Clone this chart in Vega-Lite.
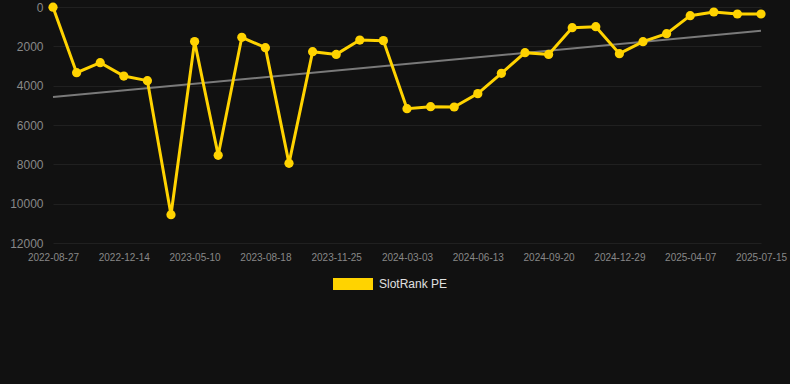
{
  "$schema": "https://vega.github.io/schema/vega-lite/v6.json",
  "width": 708,
  "height": 236,
  "autosize": {"type": "none"},
  "padding": {"left": 53, "top": 7, "right": 29, "bottom": 141},
  "background": "#111111",
  "config": {
    "view": {"stroke": null},
    "font": "Liberation Sans",
    "axis": {"gridColor": "#202020", "gridWidth": 1, "domain": false, "ticks": false, "labelColor": "#888888", "labelFont": "Liberation Sans"}
  },
  "datasets": {
    "main": [
      {"date": "2022-08-27", "rank": 10, "series": "SlotRank PE"},
      {"date": "2022-09-30", "rank": 3340, "series": "SlotRank PE"},
      {"date": "2022-11-10", "rank": 2830, "series": "SlotRank PE"},
      {"date": "2022-12-14", "rank": 3510, "series": "SlotRank PE"},
      {"date": "2023-01-25", "rank": 3745, "series": "SlotRank PE"},
      {"date": "2023-03-20", "rank": 10560, "series": "SlotRank PE"},
      {"date": "2023-05-10", "rank": 1760, "series": "SlotRank PE"},
      {"date": "2023-06-12", "rank": 7540, "series": "SlotRank PE"},
      {"date": "2023-07-15", "rank": 1540, "series": "SlotRank PE"},
      {"date": "2023-08-18", "rank": 2068, "series": "SlotRank PE"},
      {"date": "2023-09-20", "rank": 7950, "series": "SlotRank PE"},
      {"date": "2023-10-22", "rank": 2270, "series": "SlotRank PE"},
      {"date": "2023-11-25", "rank": 2410, "series": "SlotRank PE"},
      {"date": "2023-12-28", "rank": 1680, "series": "SlotRank PE"},
      {"date": "2024-01-30", "rank": 1710, "series": "SlotRank PE"},
      {"date": "2024-03-03", "rank": 5170, "series": "SlotRank PE"},
      {"date": "2024-04-05", "rank": 5070, "series": "SlotRank PE"},
      {"date": "2024-05-10", "rank": 5085, "series": "SlotRank PE"},
      {"date": "2024-06-13", "rank": 4405, "series": "SlotRank PE"},
      {"date": "2024-07-15", "rank": 3373, "series": "SlotRank PE"},
      {"date": "2024-08-17", "rank": 2322, "series": "SlotRank PE"},
      {"date": "2024-09-20", "rank": 2410, "series": "SlotRank PE"},
      {"date": "2024-10-22", "rank": 1050, "series": "SlotRank PE"},
      {"date": "2024-11-25", "rank": 1000, "series": "SlotRank PE"},
      {"date": "2024-12-29", "rank": 2373, "series": "SlotRank PE"},
      {"date": "2025-01-31", "rank": 1763, "series": "SlotRank PE"},
      {"date": "2025-03-05", "rank": 1356, "series": "SlotRank PE"},
      {"date": "2025-04-07", "rank": 440, "series": "SlotRank PE"},
      {"date": "2025-05-10", "rank": 254, "series": "SlotRank PE"},
      {"date": "2025-06-12", "rank": 356, "series": "SlotRank PE"},
      {"date": "2025-07-15", "rank": 356, "series": "SlotRank PE"}
    ],
    "trend": [
      {"date": "2022-08-27", "rank": 4580},
      {"date": "2025-07-15", "rank": 1210}
    ]
  },
  "encoding": {
    "x": {
      "field": "date", "type": "ordinal", "sort": "ascending",
      "scale": {"type": "point", "padding": 0},
      "axis": {
        "title": null, "labelAngle": 0, "labelFontSize": 10, "labelPadding": 9,
        "values": ["2022-08-27", "2022-12-14", "2023-05-10", "2023-08-18", "2023-11-25", "2024-03-03", "2024-06-13", "2024-09-20", "2024-12-29", "2025-04-07", "2025-07-15"]
      }
    },
    "y": {
      "field": "rank", "type": "quantitative",
      "scale": {"domain": [0, 12000], "reverse": true, "nice": false, "zero": false},
      "axis": {"title": null, "values": [0, 2000, 4000, 6000, 8000, 10000, 12000], "labelFontSize": 12, "labelPadding": 10, "format": "d"}
    }
  },
  "layer": [
    {
      "data": {"name": "trend"},
      "mark": {"type": "line", "color": "#7a7a7a", "strokeWidth": 2},
      "encoding": {}
    },
    {
      "data": {"name": "main"},
      "mark": {"type": "line", "strokeWidth": 3, "color": "#FFD300"},
      "encoding": {}
    },
    {
      "data": {"name": "main"},
      "mark": {"type": "circle", "size": 85, "opacity": 1},
      "encoding": {
        "color": {
          "field": "series", "type": "nominal",
          "scale": {"domain": ["SlotRank PE"], "range": ["#FFD300"]},
          "legend": {
            "title": null, "orient": "none", "legendX": 280, "legendY": 267, "direction": "horizontal",
            "symbolType": "M-1,-0.6L3,-0.6L3,0.6L-1,0.6Z", "symbolSize": 400,
            "symbolFillColor": "#FFD300", "symbolStrokeWidth": 0, "symbolOpacity": 1,
            "labelColor": "#e0e0e0", "labelFontSize": 12, "labelFont": "Liberation Sans", "padding": 0, "labelOffset": 26
          }
        }
      }
    }
  ]
}
